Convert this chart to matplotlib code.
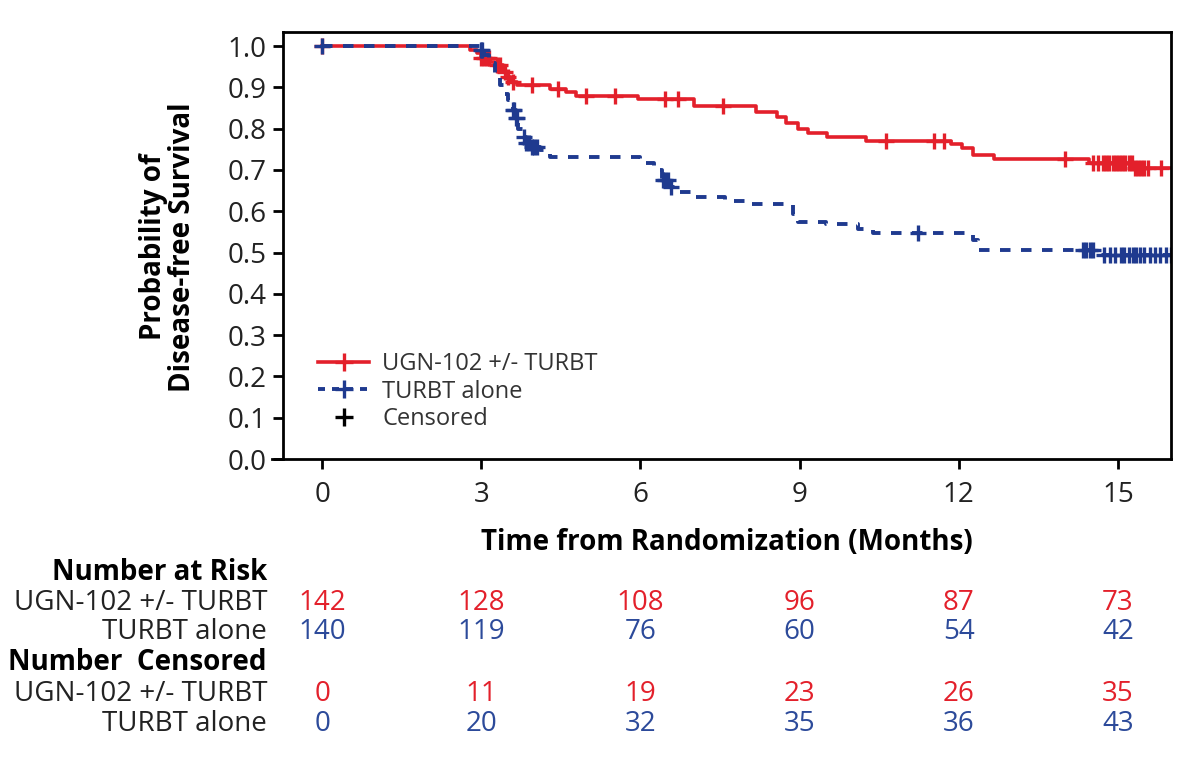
import matplotlib
matplotlib.use("Agg")
import matplotlib.pyplot as plt
import matplotlib.transforms as mtransforms
from matplotlib.lines import Line2D
import numpy as np

plt.rcParams['font.family'] = ['Open Sans', 'DejaVu Sans']

RED = '#e3202b'
BLUE = '#1f3a8f'
TXT_BLUE = '#2c4a9a'

# Kaplan-Meier steps (time in months, survival after the step)
ugn_t = [0, 2.79, 2.92, 3.0, 3.17, 3.26, 3.40, 3.49, 3.55, 3.68, 4.30, 4.60, 4.78,
         5.96, 7.00, 8.17, 8.57, 8.74, 8.96, 9.15, 9.51, 10.25, 11.85, 12.07,
         12.26, 12.66, 14.45, 15.28]
ugn_s = [1.0, 0.990, 0.983, 0.971, 0.961, 0.954, 0.937, 0.925, 0.913, 0.906, 0.896,
         0.888, 0.880, 0.872, 0.856, 0.840, 0.829, 0.813, 0.799, 0.789, 0.780,
         0.771, 0.763, 0.753, 0.736, 0.727, 0.718, 0.705]
ugn_cens = [0, 3.0, 3.05, 3.1, 3.15, 3.3, 3.35, 3.45, 3.5, 3.6, 3.96, 4.45, 4.98,
            5.51, 6.47, 6.70, 7.56, 10.62, 11.53, 11.72, 14.0, 14.53, 14.62, 14.72,
            14.78, 14.84, 14.9, 14.96, 15.02, 15.08, 15.14, 15.2, 15.26, 15.32,
            15.38, 15.44, 15.5, 15.56, 15.81]

turbt_t = [0, 2.98, 3.05, 3.15, 3.25, 3.35, 3.42, 3.5, 3.6, 3.65, 3.7, 3.78, 3.85,
           3.95, 4.10, 4.30, 6.00, 6.25, 6.40, 6.55, 6.70, 6.95, 7.60, 8.00, 8.87,
           8.97, 9.49, 10.10, 10.38, 12.26, 12.36, 14.68]
turbt_s = [1.0, 0.990, 0.978, 0.960, 0.935, 0.905, 0.885, 0.869, 0.845, 0.825,
           0.800, 0.780, 0.765, 0.755, 0.748, 0.731, 0.716, 0.700, 0.675, 0.659,
           0.646, 0.635, 0.625, 0.617, 0.593, 0.575, 0.569, 0.557, 0.547, 0.530,
           0.506, 0.494]
turbt_cens = [0, 3.0, 3.02, 3.6, 3.62, 3.65, 3.68, 3.8, 3.85, 3.9, 3.95, 4.0, 4.05,
              6.42, 6.47, 6.52, 6.57, 11.23, 14.34, 14.4, 14.47, 14.53, 14.74, 14.85,
              14.95, 15.05, 15.12, 15.2, 15.28, 15.35, 15.42, 15.5, 15.6, 15.7,
              15.8, 15.9, 16.0]

months = [0, 3, 6, 9, 12, 15]
risk_ugn = [142, 128, 108, 96, 87, 73]
risk_turbt = [140, 119, 76, 60, 54, 42]
cens_ugn = [0, 11, 19, 23, 26, 35]
cens_turbt = [0, 20, 32, 35, 36, 43]

t_end = 16.0
FS = 20


def surv_at(t_steps, s_steps, times):
    idx = np.searchsorted(t_steps, times, side='right') - 1
    return np.array(s_steps)[idx]


fig = plt.figure(figsize=(12, 7.62), dpi=100)
ax = fig.add_axes([0.2358, 0.3976, 0.74, 0.5604])

ax.step(ugn_t + [t_end], ugn_s + [ugn_s[-1]], where='post', color=RED, lw=2.6)
ax.plot(ugn_cens, surv_at(ugn_t, ugn_s, ugn_cens), ls='none', marker='+',
        ms=11, mew=2.4, color=RED)

ax.step(turbt_t + [t_end], turbt_s + [turbt_s[-1]], where='post', color=BLUE,
        lw=2.8, dashes=(2.7, 2.7))
ax.plot(turbt_cens, surv_at(turbt_t, turbt_s, turbt_cens), ls='none', marker='+',
        ms=11, mew=2.4, color=BLUE)

ax.set_xlim(-0.74, 16.0)
ax.set_ylim(0, 1.034)
ax.set_xticks(months)
ax.set_yticks(np.arange(0, 1.01, 0.1))
ax.set_yticklabels([f'{v:.1f}' for v in np.arange(0, 1.01, 0.1)])
ax.tick_params(labelsize=FS, length=7, width=2, colors='black', labelcolor='#222222')
ax.tick_params(axis='x', pad=9)
ax.tick_params(axis='y', pad=5)
for sp in ax.spines.values():
    sp.set_linewidth(2)
ax.spines['bottom'].set_bounds(-0.95, 16.0)

handles = [
    Line2D([], [], color=RED, lw=2.6, marker='+', ms=13, mew=2.4),
    Line2D([], [], color=BLUE, lw=2.8, dashes=(1.8, 1.8), marker='+', ms=13, mew=2.4),
    Line2D([], [], color='black', ls='none', marker='+', ms=13, mew=2.4),
]
ax.legend(handles, ['UGN-102 +/- TURBT', 'TURBT alone', 'Censored'],
          loc='upper left', bbox_to_anchor=(0.015, 0.30), frameon=False,
          fontsize=17, handlelength=2.2, handletextpad=0.55, labelspacing=0.15,
          numpoints=1, labelcolor='#333333')

fig.text(0.606, 1 - 543 / 762, 'Time from Randomization (Months)', ha='center',
         va='center', fontsize=FS, fontweight='bold')
fig.text(0.14, 1 - 247 / 762, 'Probability of\nDisease-free Survival', ha='center',
         va='center', rotation=90, fontsize=FS, fontweight='bold', linespacing=1.0)

# risk table under the axis, x follows the month ticks
trans = mtransforms.blended_transform_factory(ax.transData, fig.transFigure)
lab_x = 267 / 1200
rows = [
    (573, 'Number at Risk', True, None, None),
    (603, 'UGN-102 +/- TURBT', False, risk_ugn, RED),
    (632, 'TURBT alone', False, risk_turbt, TXT_BLUE),
    (663, 'Number  Censored', True, None, None),
    (694, 'UGN-102 +/- TURBT', False, cens_ugn, RED),
    (724, 'TURBT alone', False, cens_turbt, TXT_BLUE),
]
for ypx, label, bold, vals, col in rows:
    yf = 1 - ypx / 762
    fig.text(lab_x, yf, label, ha='right', va='center', fontsize=FS,
             fontweight='bold' if bold else 'normal',
             color='black' if bold else '#222222')
    if vals is not None:
        for m, v in zip(months, vals):
            ax.text(m, yf, str(v), transform=trans, ha='center', va='center',
                    fontsize=FS, color=col, clip_on=False)

fig.savefig('out.png', dpi=100)
